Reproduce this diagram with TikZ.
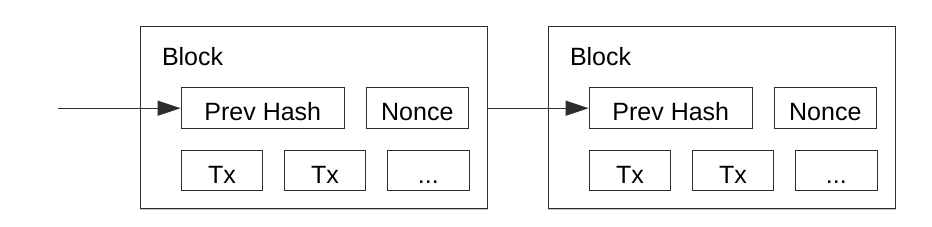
\documentclass[tikz,border=0pt]{standalone}
\usepackage{fontspec}
\setmainfont{Liberation Sans}
\usepackage{tikz}
\usetikzlibrary{positioning,arrows.meta}
\definecolor{lineclr}{RGB}{45,45,45}

\begin{document}
\begin{tikzpicture}[x=1pt,y=1pt,
  every node/.style={font=\fontsize{12.5}{15}\selectfont,inner sep=0pt},
  blockbox/.style={draw=lineclr,line width=0.6pt,
                   minimum width=173.5pt,minimum height=91pt},
  fieldbox/.style={draw=lineclr,line width=0.5pt,minimum height=20.5pt,
                   text height=12.5pt,text depth=0pt},
  txbox/.style={fieldbox,minimum width=40.8pt,minimum height=20.2pt},
  link/.style={draw=lineclr,line width=0.5pt,
               -{Triangle[length=11.5pt,width=7.5pt]}}]
  \useasboundingbox (0,0) rectangle (466,113);
  \foreach \i/\xx in {1/70,2/274} {
    \node[blockbox,anchor=north west] (blk\i) at (\xx,100) {};
    \draw[gray!45,line width=0.6pt] (blk\i.south west) -- (blk\i.south east);
    \node[anchor=base west] (lbl\i) at ([shift={(10.8,-19.5)}]blk\i.north west) {Block};
    \node[fieldbox,minimum width=81.7pt,
          below right=30.6pt and 20.3pt of blk\i.north west] (prev\i) {Prev Hash};
    \node[fieldbox,minimum width=50.8pt,right=10.5pt of prev\i] (nonce\i) {Nonce};
    \node[txbox,below right=10.3pt and 0pt of prev\i.south west] (txa\i) {Tx};
    \node[txbox,right=10.3pt of txa\i] (txb\i) {Tx};
    \node[txbox,right=10.3pt of txb\i] (more\i) {...};
  }
  % chain links
  \coordinate (start) at ([xshift=-61.3pt]prev1.west);
  \draw[link] (start) -- (prev1.west);
  \draw[link] (blk1.east |- prev2.west) -- (prev2.west);
\end{tikzpicture}
\end{document}
